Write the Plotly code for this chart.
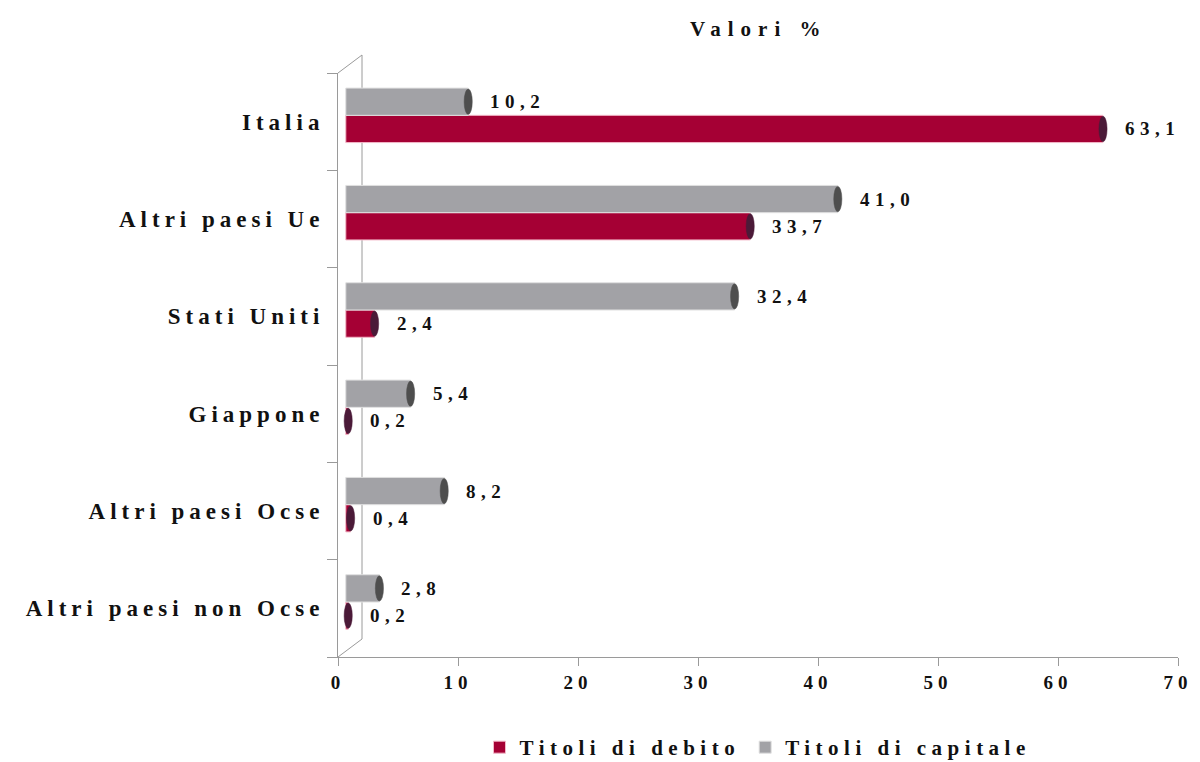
import plotly.graph_objects as go

categories = ["Italia", "Altri paesi Ue", "Stati Uniti", "Giappone", "Altri paesi Ocse", "Altri paesi non Ocse"]
debito = [63.1, 33.7, 2.4, 0.2, 0.4, 0.2]
capitale = [10.2, 41.0, 32.4, 5.4, 8.2, 2.8]
x_ticks = [0, 10, 20, 30, 40, 50, 60, 70]
series_names = ["Titoli di debito", "Titoli di capitale"]
title_text = "Valori %"

RED = "#A50034"
RED_EDGE = "#F2B8C8"
RED_CAP = "#4B1A38"
GRAY = "#A2A2A6"
GRAY_EDGE = "#E0E0E0"
GRAY_CAP = "#4E4E4E"
FONT = "Liberation Serif, Times New Roman, serif"
line_col = "#9A9A9A"

# page body has an 8px margin, so the figure is 8px smaller on each axis
W, H = 1192, 754
ML, MR, MT, MB = 330, 22, 65, 105
PLOT_H = H - MT - MB
BAR_W = 0.28        # bar thickness in category units
LIFT = 0.065        # 3D perspective lift of the bar pair
DEPTH = 0.65        # 3D depth offset of bars along value axis
DX, DY = 24, 18     # 3D wall offset in px


def sp(t, ls=4):
    return f'<b><span style="letter-spacing:{ls}px">{t}</span></b>'


def fmt(v):
    return f"{v:.1f}".replace(".", ",")


order = list(reversed(categories))  # bottom-to-top

fig = go.Figure()
fig.add_trace(go.Bar(y=categories, x=debito, base=DEPTH, orientation="h", name=sp(series_names[0], 5.5),
                     offset=-BAR_W + LIFT, width=BAR_W,
                     marker=dict(color=RED, line=dict(color=RED_EDGE, width=1))))
fig.add_trace(go.Bar(y=categories, x=capitale, base=DEPTH, orientation="h", name=sp(series_names[1], 5.5),
                     offset=LIFT, width=BAR_W,
                     marker=dict(color=GRAY, line=dict(color=GRAY_EDGE, width=1))))

shapes = [
    dict(type="line", xref="paper", yref="paper", xsizemode="pixel", ysizemode="pixel",
         xanchor=0, yanchor=0, x0=0, x1=DX, y0=0, y1=DY, line=dict(color=line_col, width=1), layer="below"),
    dict(type="line", xref="paper", yref="paper", xsizemode="pixel", ysizemode="pixel",
         xanchor=0, yanchor=1, x0=0, x1=DX, y0=0, y1=DY, line=dict(color=line_col, width=1), layer="below"),
    dict(type="line", xref="paper", yref="paper", xsizemode="pixel", ysizemode="pixel",
         xanchor=0, yanchor=0, x0=DX, x1=DX, y0=DY, y1=PLOT_H + DY, line=dict(color=line_col, width=1), layer="below"),
]
annotations = []

for series, lo, cap in ((debito, -BAR_W + LIFT, RED_CAP), (capitale, LIFT, GRAY_CAP)):
    for cat, v in zip(categories, series):
        idx = order.index(cat)
        y0 = idx + lo
        y1 = y0 + BAR_W
        end = v + DEPTH
        shapes.append(dict(type="circle", xref="x", yref="y",
                           x0=end - 0.34, x1=end + 0.34, y0=y0 + 0.01, y1=y1 - 0.01,
                           fillcolor=cap, line=dict(color=cap, width=0.5), layer="above"))
        annotations.append(dict(x=end, y=(y0 + y1) / 2, xref="x", yref="y", text=sp(fmt(v), 5.5),
                                showarrow=False, xanchor="left", yanchor="middle", xshift=20,
                                font=dict(family=FONT, size=19, color="#111111")))

annotations.append(dict(x=0.5, y=1, xref="paper", yref="paper", yshift=30, text=sp(title_text, 7),
                        showarrow=False, xanchor="center", yanchor="bottom",
                        font=dict(family=FONT, size=21, color="#111111")))

fig.update_layout(
    width=W, height=H,
    margin=dict(l=ML, r=MR, t=MT, b=MB, autoexpand=False),
    paper_bgcolor="white", plot_bgcolor="white",
    barmode="group",
    shapes=shapes, annotations=annotations,
    showlegend=True,
    legend=dict(orientation="h", x=0.5, xanchor="center", y=-0.155, yanchor="middle",
                font=dict(family=FONT, size=21, color="#111111"),
                itemwidth=30, tracegroupgap=0),
    xaxis=dict(range=[0, 70], tickmode="array", tickvals=x_ticks,
               ticktext=[sp(str(t), 5) for t in x_ticks], automargin=False,
               ticks="outside", ticklen=8, tickcolor=line_col, showline=True, linecolor=line_col,
               showgrid=False, zeroline=False,
               tickfont=dict(family=FONT, size=19, color="#111111")),
    yaxis=dict(type="category", categoryorder="array", categoryarray=order, automargin=False,
               range=[-0.5, len(order) - 0.5],
               tickmode="array", tickvals=order, ticktext=[sp(c, 5) for c in order],
               ticklabelstandoff=8,
               tickson="boundaries", ticks="outside", ticklen=10, tickcolor=line_col,
               showline=True, linecolor=line_col, showgrid=False, zeroline=False,
               tickfont=dict(family=FONT, size=23, color="#111111")),
)

fig.write_html("out.html")
